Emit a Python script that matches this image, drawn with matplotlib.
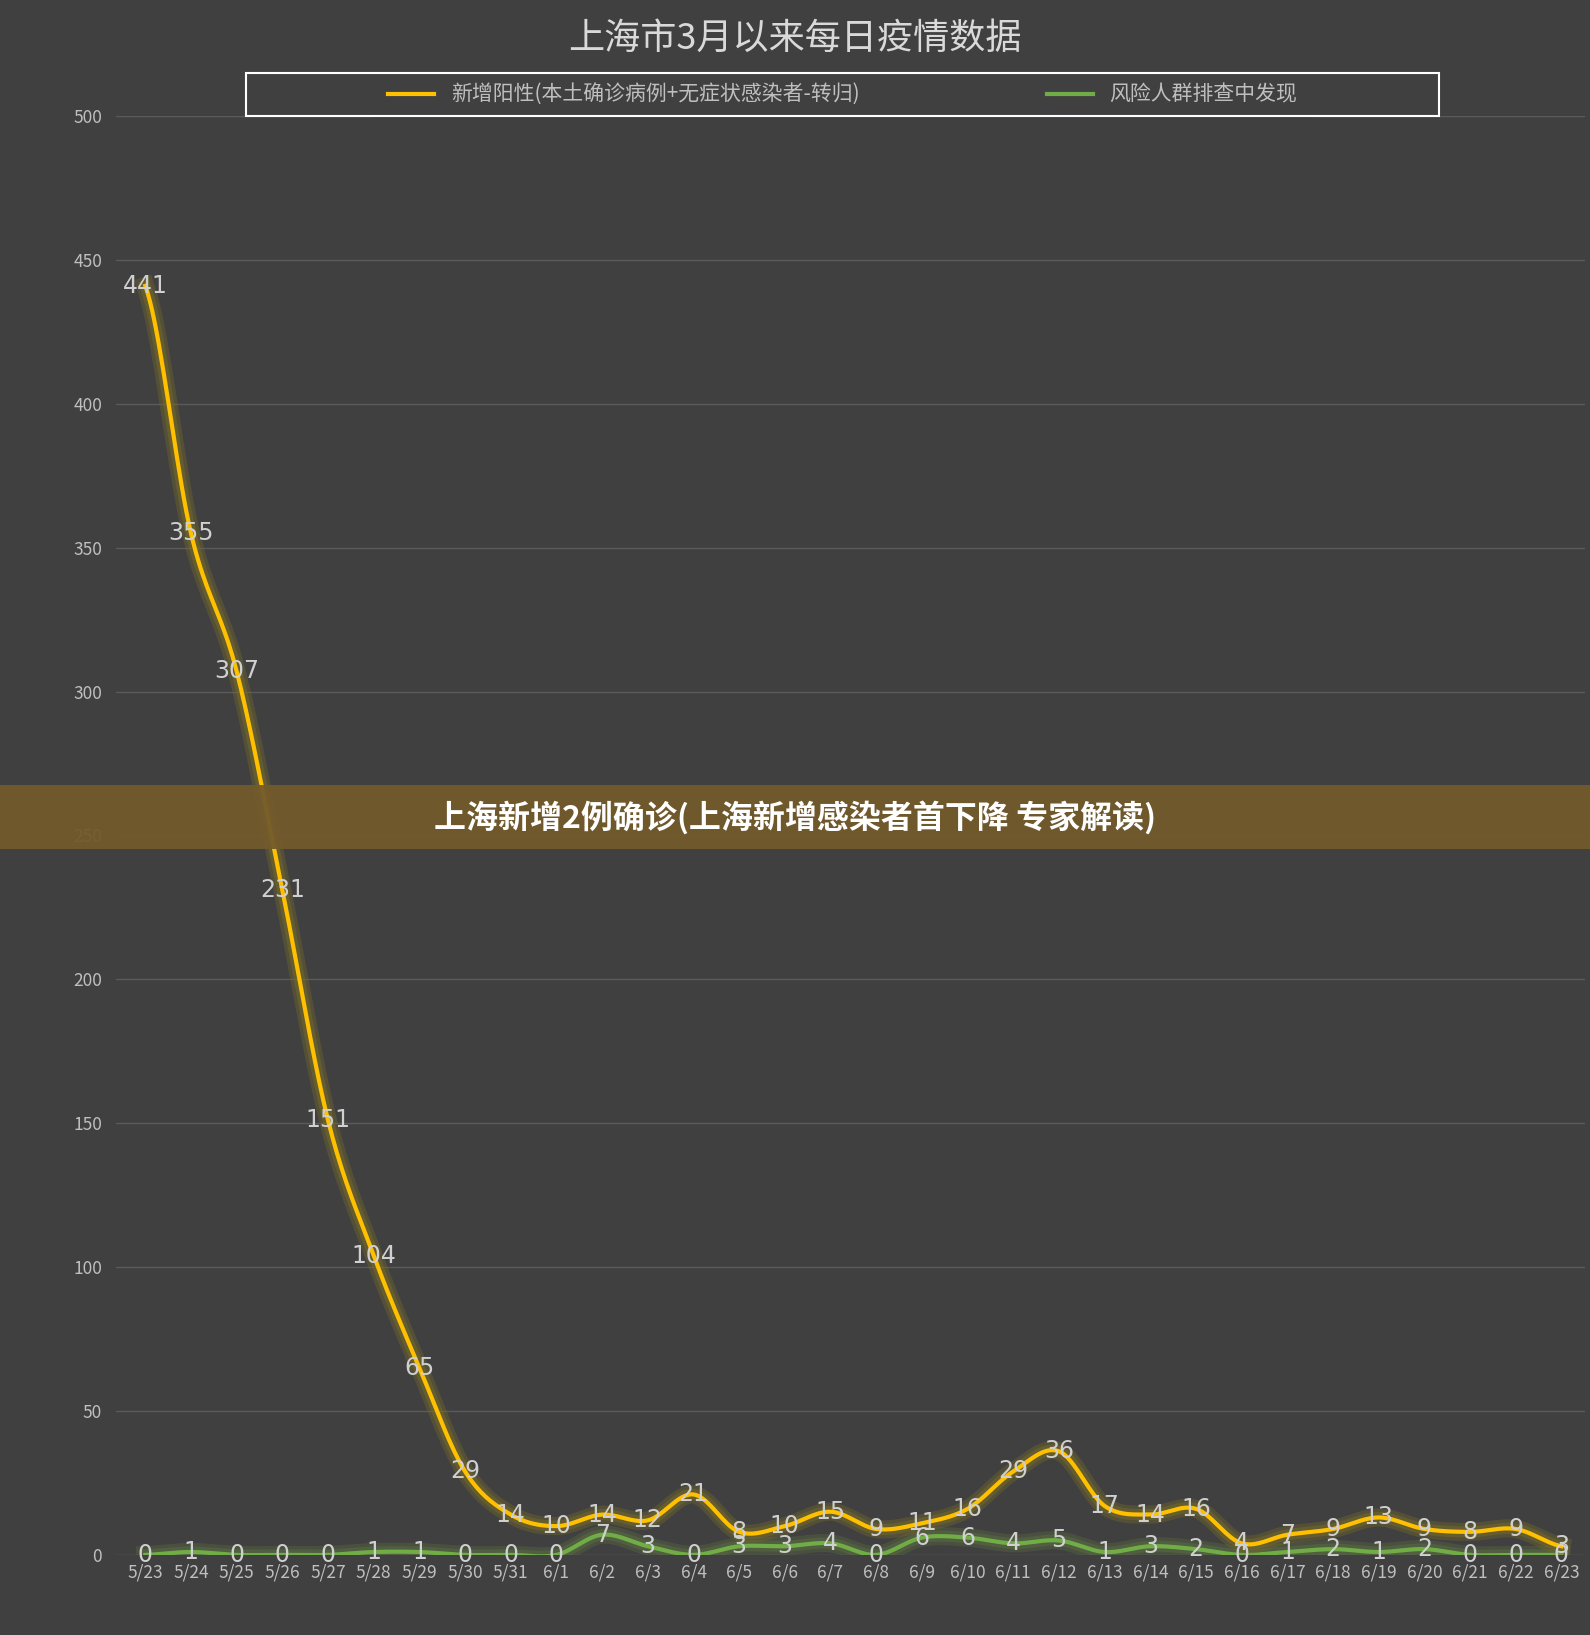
import numpy as np
import matplotlib.pyplot as plt
import matplotlib.patheffects as pe
from matplotlib.patches import Rectangle

plt.rcParams['font.family'] = ['Noto Sans CJK SC', 'DejaVu Sans']

dates = ['5/23', '5/24', '5/25', '5/26', '5/27', '5/28', '5/29', '5/30', '5/31',
         '6/1', '6/2', '6/3', '6/4', '6/5', '6/6', '6/7', '6/8', '6/9', '6/10',
         '6/11', '6/12', '6/13', '6/14', '6/15', '6/16', '6/17', '6/18', '6/19',
         '6/20', '6/21', '6/22', '6/23']
positive = [441, 355, 307, 231, 151, 104, 65, 29, 14, 10, 14, 12, 21, 8, 10, 15,
            9, 11, 16, 29, 36, 17, 14, 16, 4, 7, 9, 13, 9, 8, 9, 3]
screening = [0, 1, 0, 0, 0, 1, 1, 0, 0, 0, 7, 3, 0, 3, 3, 4, 0, 6, 6, 4, 5, 1,
             3, 2, 0, 1, 2, 1, 2, 0, 0, 0]


def smooth(y, n=20):
    # Catmull-Rom curve through the points, like Excel's smoothed line
    y = np.asarray(y, float)
    p = np.concatenate([[y[0]], y, [y[-1]]])
    xs, ys = [], []
    for i in range(len(y) - 1):
        t = np.linspace(0, 1, n, endpoint=False)
        p0, p1, p2, p3 = p[i], p[i + 1], p[i + 2], p[i + 3]
        ys.append(0.5 * (2 * p1 + (-p0 + p2) * t + (2 * p0 - 5 * p1 + 4 * p2 - p3) * t ** 2
                         + (-p0 + 3 * p1 - 3 * p2 + p3) * t ** 3))
        xs.append(i + t)
    xs.append([len(y) - 1]); ys.append([y[-1]])
    return np.concatenate(xs), np.concatenate(ys)


bg = '#404040'
fig = plt.figure(figsize=(15.9, 16.35), dpi=100, facecolor=bg)
ax = fig.add_axes([0.073, 0.049, 0.924, 0.88], facecolor=bg)
x = np.arange(len(dates))

for vals, col, glow in [(screening, '#70ad47', '#5c7040'), (positive, '#ffc000', '#7a6e28')]:
    sx, sy = smooth(vals)
    ax.plot(sx, sy, color=col, lw=3, zorder=3,
            path_effects=[pe.Stroke(linewidth=13, foreground=glow, alpha=0.35),
                          pe.Stroke(linewidth=8, foreground=glow, alpha=0.45), pe.Normal()])

for i in x:
    ax.text(i, positive[i], str(positive[i]), color='#d0d0d0', fontsize=17,
            ha='center', va='center', zorder=5, family=['DejaVu Sans'])
    ax.text(i, screening[i], str(screening[i]), color='#d0d0d0', fontsize=17,
            ha='center', va='center', zorder=5, family=['DejaVu Sans'])

ax.set_xlim(-0.64, len(dates) - 1 + 0.52)
ax.set_ylim(0, 500)
ax.set_yticks(range(0, 501, 50))
ax.set_xticks(x)
ax.set_xticklabels(dates)
ax.tick_params(colors='#bfbfbf', labelsize=12.5, length=0)
ax.tick_params(axis='y', pad=10)
ax.tick_params(axis='x', pad=6)
ax.grid(axis='y', color='#5a5a5a', lw=1)
ax.set_axisbelow(True)
for s in ax.spines.values():
    s.set_visible(False)

fig.text(0.5, 0.976, '上海市3月以来每日疫情数据', color='#d9d9d9', fontsize=26,
         ha='center', va='center')
leg = fig.legend([plt.Line2D([], [], color='#ffc000', lw=3), plt.Line2D([], [], color='#70ad47', lw=3)],
                 ['新增阳性(本土确诊病例+无症状感染者-转归)', '风险人群排查中发现'],
                 loc='center', bbox_to_anchor=(0.53, 0.942), ncol=2, frameon=True,
                 fontsize=15, labelcolor='#bfbfbf', columnspacing=9, handlelength=2.2,
                 borderpad=0.5)
leg.get_frame().set_facecolor(bg)
leg.get_frame().set_edgecolor('white')
leg.get_frame().set_linewidth(1.5)
leg.get_frame().set_boxstyle('square', pad=0.3)
# widen the box to the reference's width
fig.canvas.draw()
bb = leg.get_window_extent()
target = 0.75 * fig.bbox.width
extra = (target - bb.width) / 2
leg.get_frame().set_boxstyle('square', pad=0.3)
fr = Rectangle((bb.x0 - extra, bb.y0), target, bb.height, transform=None,
               facecolor='none', edgecolor='white', lw=1.5, zorder=9)
leg.get_frame().set_edgecolor('none')
fig.patches.append(fr)

fig.patches.append(Rectangle((0, 0.481), 1, 0.039, transform=fig.transFigure,
                             facecolor='#735a2c', alpha=0.95, zorder=10))
fig.text(0.5, 0.5, '上海新增2例确诊(上海新增感染者首下降 专家解读)', color='white',
         fontsize=23, fontweight='bold', ha='center', va='center', zorder=11)

fig.savefig('out.png', facecolor=bg)
